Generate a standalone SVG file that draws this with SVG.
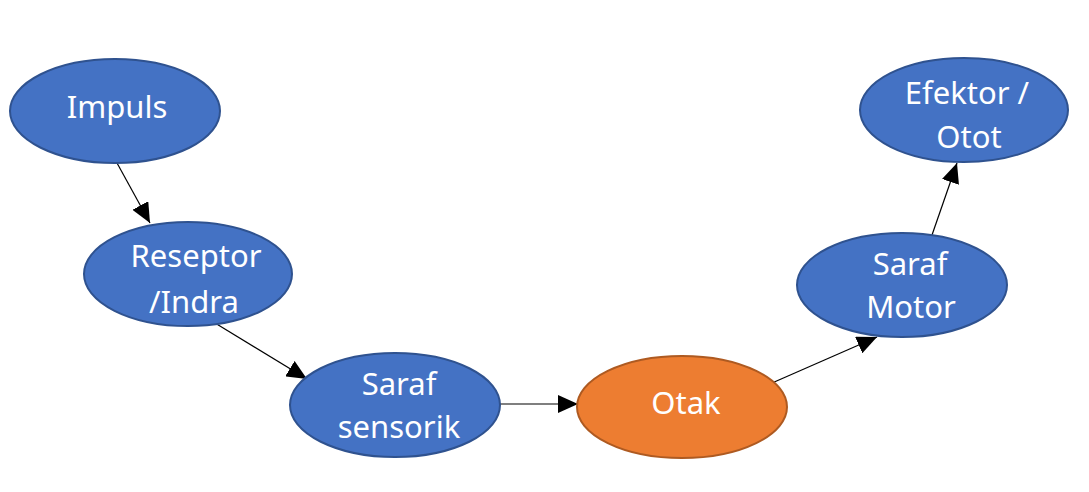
<svg xmlns="http://www.w3.org/2000/svg" width="1089" height="492" viewBox="0 0 1089 492">
<style>
.blue{fill:#4472C4;stroke:#2F528F;stroke-width:2}
.orange{fill:#ED7D31;stroke:#AE5A21;stroke-width:2}
.lbl{font-family:"Noto Sans","Open Sans",sans-serif;font-size:31px;fill:#FFFFFF;text-anchor:middle}
.conn{stroke:#000;stroke-width:1.2;fill:none;marker-end:url(#arr)}
</style>
<defs>
<marker id="arr" markerUnits="userSpaceOnUse" markerWidth="20" markerHeight="18" viewBox="0 0 20 18" refX="20" refY="9" orient="auto">
<path d="M0,0 L20,9 L0,18 z" fill="#000"/>
</marker>
</defs>
<rect width="1089" height="492" fill="#FFFFFF"/>
<g id="connectors">
<line class="conn" x1="117" y1="163" x2="150" y2="223"/>
<line class="conn" x1="215" y1="323" x2="307" y2="379"/>
<line class="conn" x1="500" y1="404" x2="578" y2="404"/>
<line class="conn" x1="772" y1="383" x2="877" y2="337"/>
<line class="conn" x1="932" y1="235" x2="957" y2="163"/>
</g>
<g id="impuls">
<ellipse class="blue" cx="115" cy="111" rx="105" ry="52"/>
<text class="lbl" x="117" y="118">Impuls</text>
</g>
<g id="reseptor">
<ellipse class="blue" cx="188" cy="274" rx="104" ry="52"/>
<text class="lbl" x="196" y="267">Reseptor</text>
<text class="lbl" x="194" y="313">/Indra</text>
</g>
<g id="saraf-sensorik">
<ellipse class="blue" cx="395" cy="405" rx="105" ry="52"/>
<text class="lbl" x="399" y="395">Saraf</text>
<text class="lbl" x="399" y="438">sensorik</text>
</g>
<g id="otak">
<ellipse class="orange" cx="682" cy="407" rx="105" ry="51"/>
<text class="lbl" x="686" y="414">Otak</text>
</g>
<g id="saraf-motor">
<ellipse class="blue" cx="902" cy="285" rx="105" ry="52"/>
<text class="lbl" x="910" y="275">Saraf</text>
<text class="lbl" x="911" y="318">Motor</text>
</g>
<g id="efektor">
<ellipse class="blue" cx="964" cy="110" rx="104" ry="52"/>
<text class="lbl" x="967" y="104">Efektor /</text>
<text class="lbl" x="969" y="148">Otot</text>
</g>
</svg>
